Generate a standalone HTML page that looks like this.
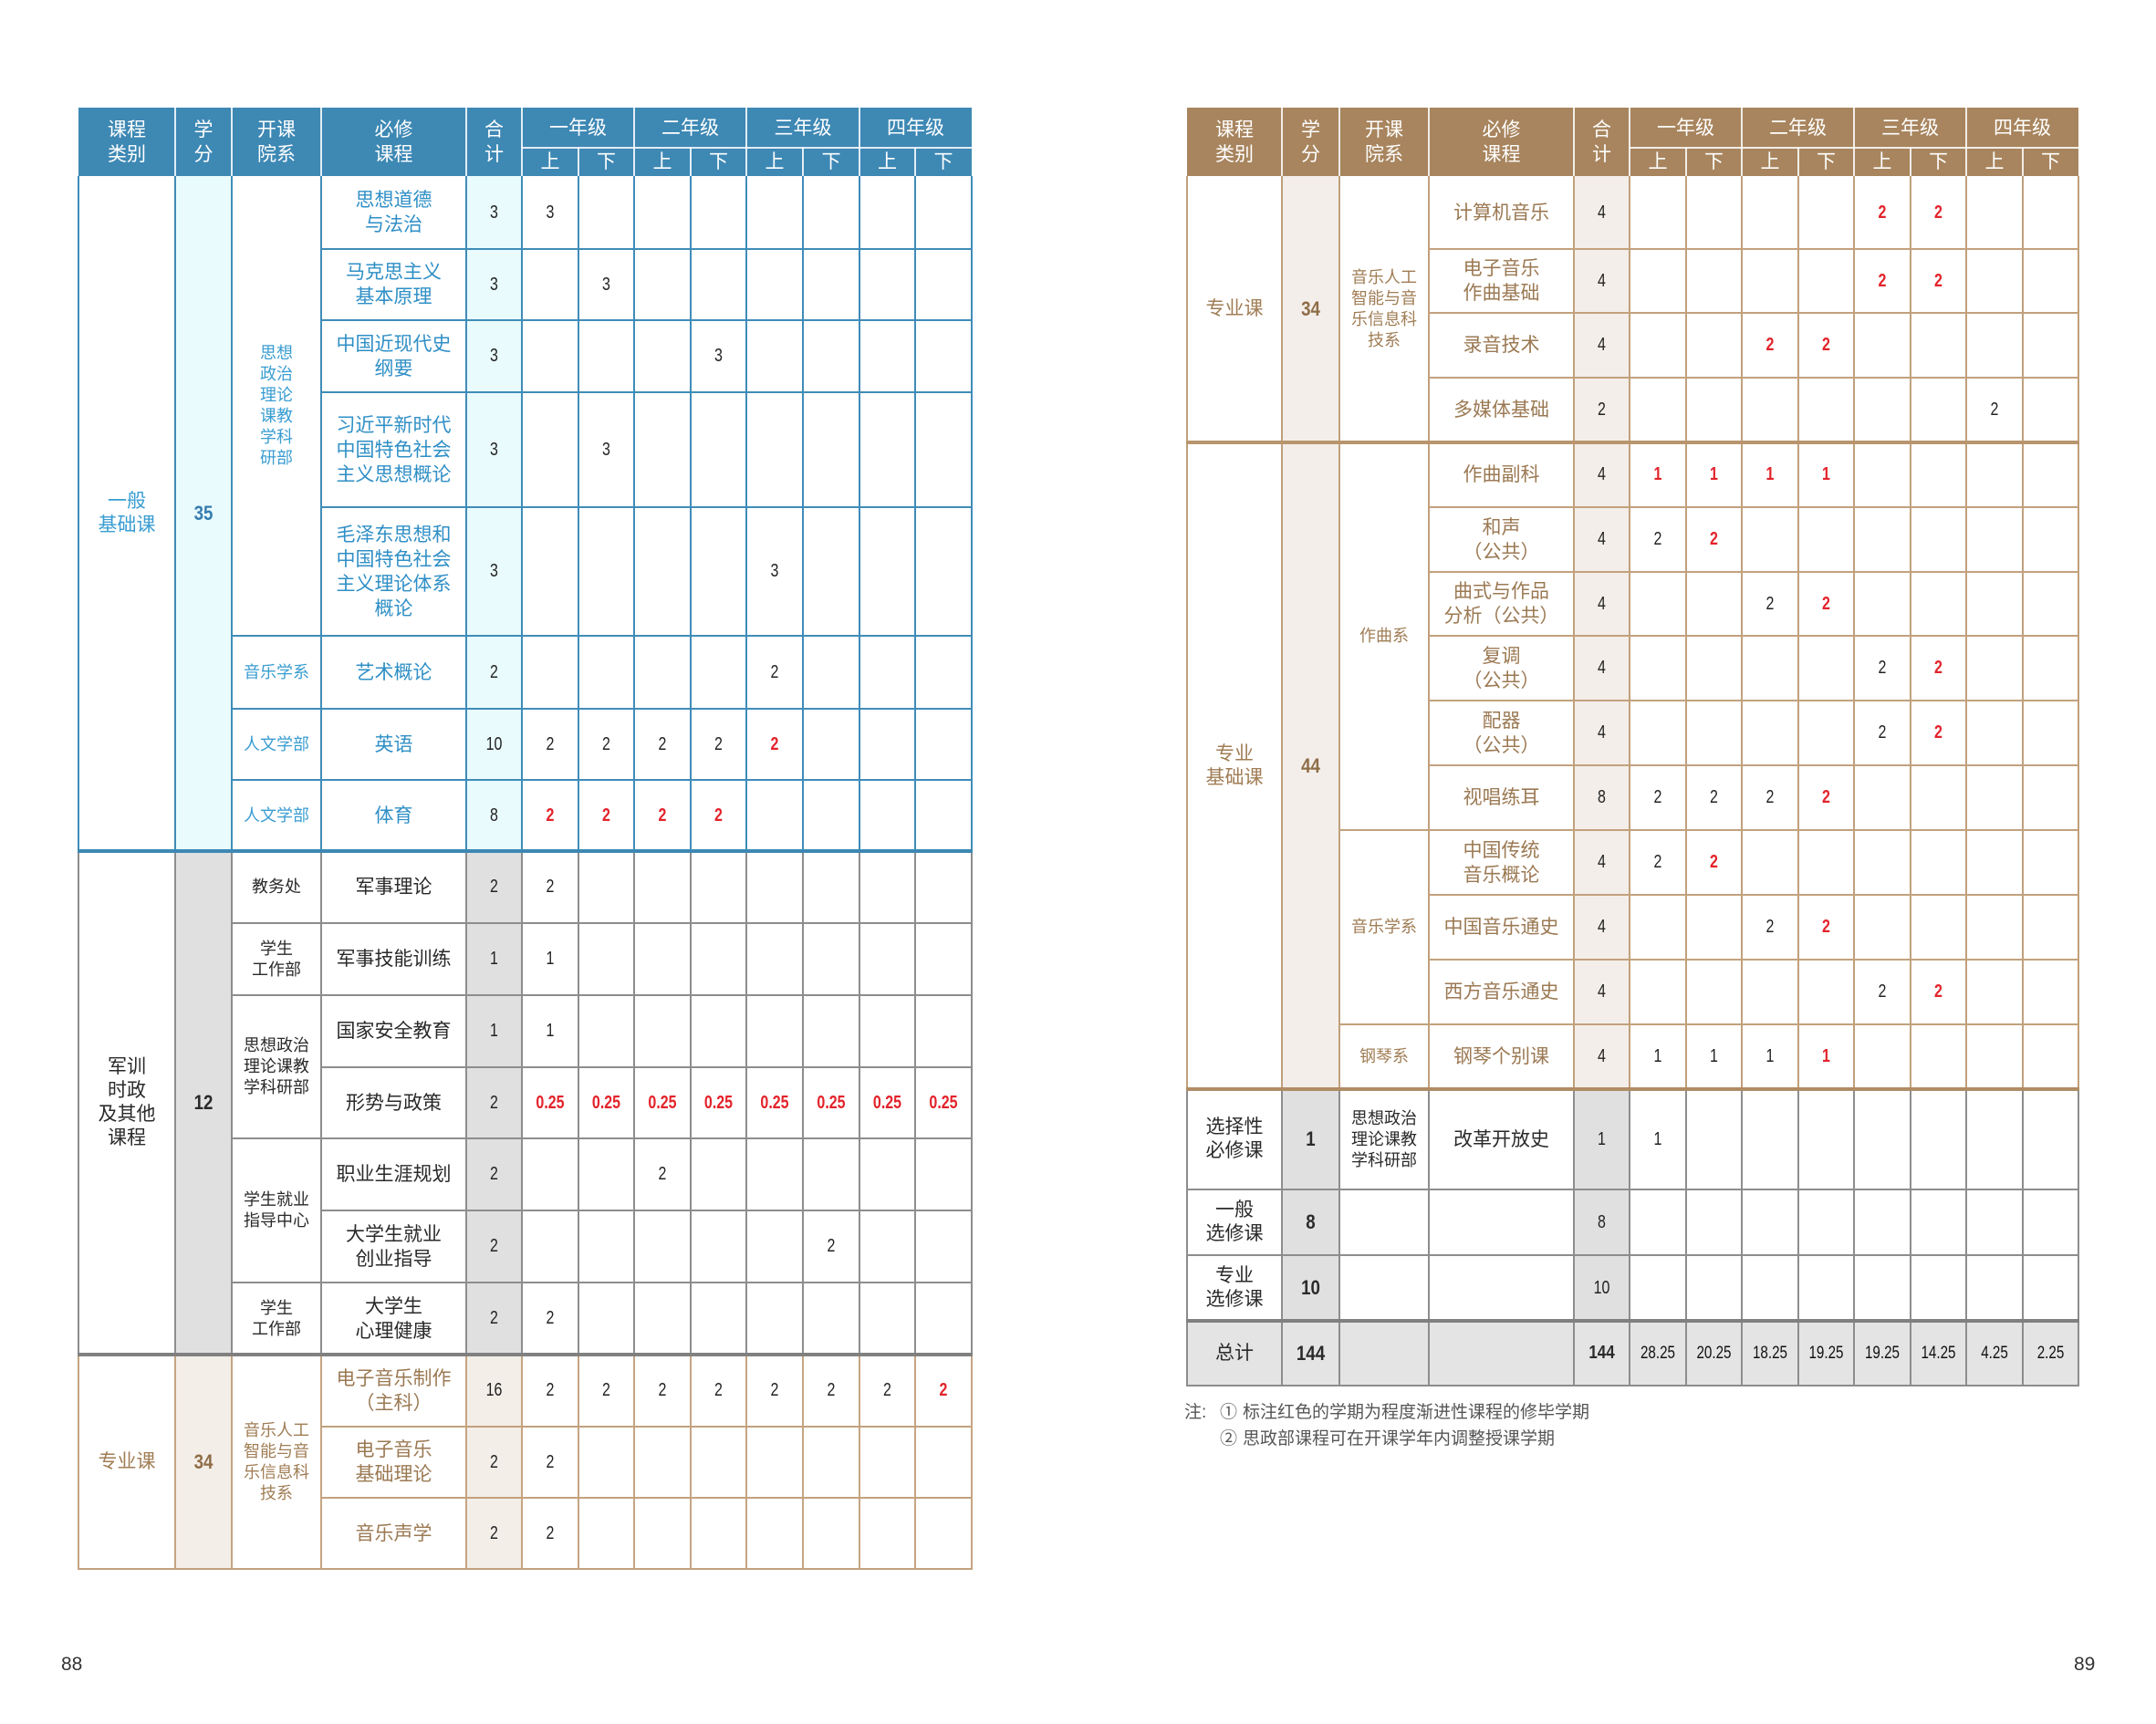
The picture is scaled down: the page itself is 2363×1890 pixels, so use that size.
<!DOCTYPE html>
<html><head><meta charset="utf-8">
<style>
html,body{margin:0;padding:0;background:#fff;}
body{width:2363px;height:1890px;position:relative;overflow:hidden;font-family:"Liberation Sans","Noto Sans CJK SC",sans-serif;}
div{box-sizing:border-box;}
.bg,.v,.h,.w{position:absolute;}
.v{width:2px;}
.h{height:2px;}
.w{background:rgba(255,255,255,0.85);}
.t{position:absolute;display:flex;align-items:center;justify-content:center;text-align:center;white-space:nowrap;}
.hd{color:#fff;font-size:21px;line-height:27px;}
.ct{font-size:21px;line-height:26px;}
.dp{font-size:18px;line-height:23px;}
.co{font-size:21px;line-height:27px;}
.n{font-family:"Liberation Sans Narrow","Liberation Sans",sans-serif;font-size:20px;color:#222;transform:scaleX(0.8);}
.nb{font-family:"Liberation Sans Narrow","Liberation Sans",sans-serif;font-size:22px;font-weight:bold;transform:scaleX(0.85);}
.rd{color:#e3232b;font-weight:bold;}
.bl1{color:#3a9dd2;} .bl2{color:#357db0;} .bl3{color:#2f8fc6;}
.gy{color:#2a2a2a;}
.br1{color:#a07d55;} .br2{color:#8e6d48;} .br3{color:#9b7953;}
/* left columns */
.a0{left:86px;width:106px}.a1{left:192px;width:62px}.a2{left:254px;width:98px}.a3{left:352px;width:159px}.a4{left:511px;width:61px}
.a5{left:572px;width:62px}.a6{left:634px;width:61px}.a7{left:695px;width:62px}.a8{left:757px;width:61px}
.a9{left:818px;width:62px}.a10{left:880px;width:62px}.a11{left:942px;width:61px}.a12{left:1003px;width:62px}
/* right columns */
.b0{left:1301px;width:104px}.b1{left:1405px;width:63px}.b2{left:1468px;width:98px}.b3{left:1566px;width:159px}.b4{left:1725px;width:61px}
.b5{left:1786px;width:62px}.b6{left:1848px;width:61px}.b7{left:1909px;width:62px}.b8{left:1971px;width:61px}
.b9{left:2032px;width:62px}.b10{left:2094px;width:61px}.b11{left:2155px;width:62px}.b12{left:2217px;width:61px}
/* left rows */
.r1{top:193px;height:80px}.r2{top:273px;height:78px}.r3{top:351px;height:79px}.r4{top:430px;height:126px}
.r5{top:556px;height:141px}.r6{top:697px;height:80px}.r7{top:777px;height:78px}.r8{top:855px;height:78px}
.r9{top:933px;height:79px}.r10{top:1012px;height:79px}.r11{top:1091px;height:79px}.r12{top:1170px;height:78px}
.r13{top:1248px;height:79px}.r14{top:1327px;height:79px}.r15{top:1406px;height:79px}.r16{top:1485px;height:79px}
.r17{top:1564px;height:78px}.r18{top:1642px;height:78px}
/* right rows */
.s1{top:193px;height:80px}.s2{top:273px;height:70px}.s3{top:343px;height:71px}.s4{top:414px;height:71px}
.s5{top:485px;height:71px}.s6{top:556px;height:71px}.s7{top:627px;height:70px}.s8{top:697px;height:71px}
.s9{top:768px;height:71px}.s10{top:839px;height:71px}.s11{top:910px;height:71px}.s12{top:981px;height:71px}
.s13{top:1052px;height:71px}.s14{top:1123px;height:71px}.s15{top:1194px;height:110px}.s16{top:1304px;height:72px}
.s17{top:1376px;height:72px}.s18{top:1448px;height:71px}
/* vertical line sections */
.vL1{top:193px;height:740px;background:#3f8cb8}
.vL2{top:933px;height:552px;background:#8d8d8d}
.vL3{top:1485px;height:235px;background:#c6a582}
.vR1{top:193px;height:1001px;background:#c0a07c}
.vR2{top:1194px;height:325px;background:#8d8d8d}
.hb{background:#3f8cb8}.hg{background:#8d8d8d}.ht{background:#c2a17d}
.note{position:absolute;font-size:19px;line-height:19px;color:#555;white-space:nowrap;}
</style></head><body>

<!-- ===== backgrounds ===== -->
<div class="bg" style="left:86px;top:118px;width:979px;height:75px;background:#3e88b4"></div>
<div class="bg" style="left:192px;top:193px;width:62px;height:740px;background:#e9fbfd"></div>
<div class="bg" style="left:511px;top:193px;width:61px;height:740px;background:#e9fbfd"></div>
<div class="bg" style="left:192px;top:933px;width:62px;height:552px;background:#e0e0e0"></div>
<div class="bg" style="left:511px;top:933px;width:61px;height:552px;background:#e0e0e0"></div>
<div class="bg" style="left:192px;top:1485px;width:62px;height:235px;background:#f3eee8"></div>
<div class="bg" style="left:511px;top:1485px;width:61px;height:235px;background:#f3eee8"></div>

<div class="bg" style="left:1301px;top:118px;width:977px;height:75px;background:#a8855e"></div>
<div class="bg" style="left:1405px;top:193px;width:63px;height:1001px;background:#f3eee9"></div>
<div class="bg" style="left:1725px;top:193px;width:61px;height:1001px;background:#f3eee9"></div>
<div class="bg" style="left:1405px;top:1194px;width:63px;height:254px;background:#e0e0e0"></div>
<div class="bg" style="left:1725px;top:1194px;width:61px;height:254px;background:#e0e0e0"></div>
<div class="bg" style="left:1301px;top:1448px;width:977px;height:71px;background:#e4e4e4"></div>

<!-- ===== header white separators (left) ===== -->
<div class="w" style="left:191px;top:118px;width:2px;height:75px"></div>
<div class="w" style="left:253px;top:118px;width:2px;height:75px"></div>
<div class="w" style="left:351px;top:118px;width:2px;height:75px"></div>
<div class="w" style="left:510px;top:118px;width:2px;height:75px"></div>
<div class="w" style="left:571px;top:118px;width:2px;height:75px"></div>
<div class="w" style="left:694px;top:118px;width:2px;height:75px"></div>
<div class="w" style="left:817px;top:118px;width:2px;height:75px"></div>
<div class="w" style="left:941px;top:118px;width:2px;height:75px"></div>
<div class="w" style="left:633px;top:162px;width:2px;height:31px"></div>
<div class="w" style="left:756px;top:162px;width:2px;height:31px"></div>
<div class="w" style="left:879px;top:162px;width:2px;height:31px"></div>
<div class="w" style="left:1002px;top:162px;width:2px;height:31px"></div>
<div class="w" style="left:572px;top:161px;width:493px;height:2px"></div>
<!-- header white separators (right) -->
<div class="w" style="left:1404px;top:118px;width:2px;height:75px"></div>
<div class="w" style="left:1467px;top:118px;width:2px;height:75px"></div>
<div class="w" style="left:1565px;top:118px;width:2px;height:75px"></div>
<div class="w" style="left:1724px;top:118px;width:2px;height:75px"></div>
<div class="w" style="left:1785px;top:118px;width:2px;height:75px"></div>
<div class="w" style="left:1908px;top:118px;width:2px;height:75px"></div>
<div class="w" style="left:2031px;top:118px;width:2px;height:75px"></div>
<div class="w" style="left:2154px;top:118px;width:2px;height:75px"></div>
<div class="w" style="left:1847px;top:162px;width:2px;height:31px"></div>
<div class="w" style="left:1970px;top:162px;width:2px;height:31px"></div>
<div class="w" style="left:2093px;top:162px;width:2px;height:31px"></div>
<div class="w" style="left:2216px;top:162px;width:2px;height:31px"></div>
<div class="w" style="left:1786px;top:161px;width:492px;height:2px"></div>

<!-- ===== left vertical lines ===== -->
<div class="v vL1" style="left:85px"></div><div class="v vL1" style="left:191px"></div><div class="v vL1" style="left:253px"></div><div class="v vL1" style="left:351px"></div><div class="v vL1" style="left:510px"></div><div class="v vL1" style="left:571px"></div><div class="v vL1" style="left:633px"></div><div class="v vL1" style="left:694px"></div><div class="v vL1" style="left:756px"></div><div class="v vL1" style="left:817px"></div><div class="v vL1" style="left:879px"></div><div class="v vL1" style="left:941px"></div><div class="v vL1" style="left:1002px"></div><div class="v vL1" style="left:1064px"></div>
<div class="v vL2" style="left:85px"></div><div class="v vL2" style="left:191px"></div><div class="v vL2" style="left:253px"></div><div class="v vL2" style="left:351px"></div><div class="v vL2" style="left:510px"></div><div class="v vL2" style="left:571px"></div><div class="v vL2" style="left:633px"></div><div class="v vL2" style="left:694px"></div><div class="v vL2" style="left:756px"></div><div class="v vL2" style="left:817px"></div><div class="v vL2" style="left:879px"></div><div class="v vL2" style="left:941px"></div><div class="v vL2" style="left:1002px"></div><div class="v vL2" style="left:1064px"></div>
<div class="v vL3" style="left:85px"></div><div class="v vL3" style="left:191px"></div><div class="v vL3" style="left:253px"></div><div class="v vL3" style="left:351px"></div><div class="v vL3" style="left:510px"></div><div class="v vL3" style="left:571px"></div><div class="v vL3" style="left:633px"></div><div class="v vL3" style="left:694px"></div><div class="v vL3" style="left:756px"></div><div class="v vL3" style="left:817px"></div><div class="v vL3" style="left:879px"></div><div class="v vL3" style="left:941px"></div><div class="v vL3" style="left:1002px"></div><div class="v vL3" style="left:1064px"></div>

<!-- ===== right vertical lines ===== -->
<div class="v vR1" style="left:1300px"></div><div class="v vR1" style="left:1404px"></div><div class="v vR1" style="left:1467px"></div><div class="v vR1" style="left:1565px"></div><div class="v vR1" style="left:1724px"></div><div class="v vR1" style="left:1785px"></div><div class="v vR1" style="left:1847px"></div><div class="v vR1" style="left:1908px"></div><div class="v vR1" style="left:1970px"></div><div class="v vR1" style="left:2031px"></div><div class="v vR1" style="left:2093px"></div><div class="v vR1" style="left:2154px"></div><div class="v vR1" style="left:2216px"></div><div class="v vR1" style="left:2277px"></div>
<div class="v vR2" style="left:1300px"></div><div class="v vR2" style="left:1404px"></div><div class="v vR2" style="left:1467px"></div><div class="v vR2" style="left:1565px"></div><div class="v vR2" style="left:1724px"></div><div class="v vR2" style="left:1785px"></div><div class="v vR2" style="left:1847px"></div><div class="v vR2" style="left:1908px"></div><div class="v vR2" style="left:1970px"></div><div class="v vR2" style="left:2031px"></div><div class="v vR2" style="left:2093px"></div><div class="v vR2" style="left:2154px"></div><div class="v vR2" style="left:2216px"></div><div class="v vR2" style="left:2277px"></div>

<!-- ===== left horizontal lines ===== -->
<div class="h hb" style="left:352px;width:713px;top:272px"></div>
<div class="h hb" style="left:352px;width:713px;top:350px"></div>
<div class="h hb" style="left:352px;width:713px;top:429px"></div>
<div class="h hb" style="left:352px;width:713px;top:555px"></div>
<div class="h hb" style="left:254px;width:811px;top:696px"></div>
<div class="h hb" style="left:254px;width:811px;top:776px"></div>
<div class="h hb" style="left:254px;width:811px;top:854px"></div>
<div class="h" style="left:85px;width:981px;top:931px;height:4px;background:#3d88b4"></div>
<div class="h hg" style="left:254px;width:811px;top:1011px"></div>
<div class="h hg" style="left:254px;width:811px;top:1090px"></div>
<div class="h hg" style="left:352px;width:713px;top:1169px"></div>
<div class="h hg" style="left:254px;width:811px;top:1247px"></div>
<div class="h hg" style="left:352px;width:713px;top:1326px"></div>
<div class="h hg" style="left:254px;width:811px;top:1405px"></div>
<div class="h" style="left:85px;width:981px;top:1483px;height:4px;background:#808080"></div>
<div class="h ht" style="left:352px;width:713px;top:1563px"></div>
<div class="h ht" style="left:352px;width:713px;top:1641px"></div>
<div class="h ht" style="left:85px;width:981px;top:1719px"></div>

<!-- ===== right horizontal lines ===== -->
<div class="h ht" style="left:1566px;width:712px;top:272px"></div>
<div class="h ht" style="left:1566px;width:712px;top:342px"></div>
<div class="h ht" style="left:1566px;width:712px;top:413px"></div>
<div class="h" style="left:1300px;width:979px;top:483px;height:4px;background:#b8956d"></div>
<div class="h ht" style="left:1566px;width:712px;top:555px"></div>
<div class="h ht" style="left:1566px;width:712px;top:626px"></div>
<div class="h ht" style="left:1566px;width:712px;top:696px"></div>
<div class="h ht" style="left:1566px;width:712px;top:767px"></div>
<div class="h ht" style="left:1566px;width:712px;top:838px"></div>
<div class="h ht" style="left:1468px;width:810px;top:909px"></div>
<div class="h ht" style="left:1566px;width:712px;top:980px"></div>
<div class="h ht" style="left:1566px;width:712px;top:1051px"></div>
<div class="h ht" style="left:1468px;width:810px;top:1122px"></div>
<div class="h" style="left:1300px;width:979px;top:1192px;height:4px;background:#b08c63"></div>
<div class="h hg" style="left:1300px;width:979px;top:1303px"></div>
<div class="h hg" style="left:1300px;width:979px;top:1375px"></div>
<div class="h" style="left:1300px;width:979px;top:1446px;height:4px;background:#808080"></div>
<div class="h hg" style="left:1300px;width:979px;top:1518px"></div>

<!-- ===== left header text ===== -->
<div class="t hd a0" style="top:118px;height:75px">课程<br>类别</div>
<div class="t hd a1" style="top:118px;height:75px">学<br>分</div>
<div class="t hd a2" style="top:118px;height:75px">开课<br>院系</div>
<div class="t hd a3" style="top:118px;height:75px">必修<br>课程</div>
<div class="t hd a4" style="top:118px;height:75px">合<br>计</div>
<div class="t hd" style="left:572px;width:123px;top:118px;height:44px">一年级</div>
<div class="t hd" style="left:695px;width:123px;top:118px;height:44px">二年级</div>
<div class="t hd" style="left:818px;width:124px;top:118px;height:44px">三年级</div>
<div class="t hd" style="left:942px;width:123px;top:118px;height:44px">四年级</div>
<div class="t hd a5" style="top:162px;height:31px">上</div><div class="t hd a6" style="top:162px;height:31px">下</div>
<div class="t hd a7" style="top:162px;height:31px">上</div><div class="t hd a8" style="top:162px;height:31px">下</div>
<div class="t hd a9" style="top:162px;height:31px">上</div><div class="t hd a10" style="top:162px;height:31px">下</div>
<div class="t hd a11" style="top:162px;height:31px">上</div><div class="t hd a12" style="top:162px;height:31px">下</div>

<!-- ===== right header text ===== -->
<div class="t hd b0" style="top:118px;height:75px">课程<br>类别</div>
<div class="t hd b1" style="top:118px;height:75px">学<br>分</div>
<div class="t hd b2" style="top:118px;height:75px">开课<br>院系</div>
<div class="t hd b3" style="top:118px;height:75px">必修<br>课程</div>
<div class="t hd b4" style="top:118px;height:75px">合<br>计</div>
<div class="t hd" style="left:1786px;width:123px;top:118px;height:44px">一年级</div>
<div class="t hd" style="left:1909px;width:123px;top:118px;height:44px">二年级</div>
<div class="t hd" style="left:2032px;width:123px;top:118px;height:44px">三年级</div>
<div class="t hd" style="left:2155px;width:123px;top:118px;height:44px">四年级</div>
<div class="t hd b5" style="top:162px;height:31px">上</div><div class="t hd b6" style="top:162px;height:31px">下</div>
<div class="t hd b7" style="top:162px;height:31px">上</div><div class="t hd b8" style="top:162px;height:31px">下</div>
<div class="t hd b9" style="top:162px;height:31px">上</div><div class="t hd b10" style="top:162px;height:31px">下</div>
<div class="t hd b11" style="top:162px;height:31px">上</div><div class="t hd b12" style="top:162px;height:31px">下</div>

<!-- ===== LEFT section 1 ===== -->
<div class="t ct bl1 a0" style="top:193px;height:740px">一般<br>基础课</div>
<div class="t nb bl2 a1" style="top:193px;height:740px">35</div>
<div class="t dp bl1 a2" style="top:193px;height:504px">思想<br>政治<br>理论<br>课教<br>学科<br>研部</div>
<div class="t dp bl1 a2 r6">音乐学系</div>
<div class="t dp bl1 a2 r7">人文学部</div>
<div class="t dp bl1 a2 r8">人文学部</div>
<div class="t co bl3 a3 r1">思想道德<br>与法治</div>
<div class="t co bl3 a3 r2">马克思主义<br>基本原理</div>
<div class="t co bl3 a3 r3">中国近现代史<br>纲要</div>
<div class="t co bl3 a3 r4">习近平新时代<br>中国特色社会<br>主义思想概论</div>
<div class="t co bl3 a3 r5">毛泽东思想和<br>中国特色社会<br>主义理论体系<br>概论</div>
<div class="t co bl3 a3 r6">艺术概论</div>
<div class="t co bl3 a3 r7">英语</div>
<div class="t co bl3 a3 r8">体育</div>
<div class="t n a4 r1">3</div><div class="t n a5 r1">3</div>
<div class="t n a4 r2">3</div><div class="t n a6 r2">3</div>
<div class="t n a4 r3">3</div><div class="t n a8 r3">3</div>
<div class="t n a4 r4">3</div><div class="t n a6 r4">3</div>
<div class="t n a4 r5">3</div><div class="t n a9 r5">3</div>
<div class="t n a4 r6">2</div><div class="t n a9 r6">2</div>
<div class="t n a4 r7">10</div><div class="t n a5 r7">2</div><div class="t n a6 r7">2</div><div class="t n a7 r7">2</div><div class="t n a8 r7">2</div><div class="t n rd a9 r7">2</div>
<div class="t n a4 r8">8</div><div class="t n rd a5 r8">2</div><div class="t n rd a6 r8">2</div><div class="t n rd a7 r8">2</div><div class="t n rd a8 r8">2</div>

<!-- ===== LEFT section 2 ===== -->
<div class="t ct gy a0" style="top:933px;height:552px">军训<br>时政<br>及其他<br>课程</div>
<div class="t nb gy a1" style="top:933px;height:552px">12</div>
<div class="t dp gy a2 r9">教务处</div>
<div class="t dp gy a2 r10">学生<br>工作部</div>
<div class="t dp gy a2" style="top:1091px;height:157px">思想政治<br>理论课教<br>学科研部</div>
<div class="t dp gy a2" style="top:1248px;height:158px">学生就业<br>指导中心</div>
<div class="t dp gy a2 r15">学生<br>工作部</div>
<div class="t co gy a3 r9">军事理论</div>
<div class="t co gy a3 r10">军事技能训练</div>
<div class="t co gy a3 r11">国家安全教育</div>
<div class="t co gy a3 r12">形势与政策</div>
<div class="t co gy a3 r13">职业生涯规划</div>
<div class="t co gy a3 r14">大学生就业<br>创业指导</div>
<div class="t co gy a3 r15">大学生<br>心理健康</div>
<div class="t n a4 r9">2</div><div class="t n a5 r9">2</div>
<div class="t n a4 r10">1</div><div class="t n a5 r10">1</div>
<div class="t n a4 r11">1</div><div class="t n a5 r11">1</div>
<div class="t n a4 r12">2</div>
<div class="t n rd a5 r12">0.25</div><div class="t n rd a6 r12">0.25</div><div class="t n rd a7 r12">0.25</div><div class="t n rd a8 r12">0.25</div><div class="t n rd a9 r12">0.25</div><div class="t n rd a10 r12">0.25</div><div class="t n rd a11 r12">0.25</div><div class="t n rd a12 r12">0.25</div>
<div class="t n a4 r13">2</div><div class="t n a7 r13">2</div>
<div class="t n a4 r14">2</div><div class="t n a10 r14">2</div>
<div class="t n a4 r15">2</div><div class="t n a5 r15">2</div>

<!-- ===== LEFT section 3 ===== -->
<div class="t ct br1 a0" style="top:1485px;height:235px">专业课</div>
<div class="t nb br2 a1" style="top:1485px;height:235px">34</div>
<div class="t dp br1 a2" style="top:1485px;height:235px">音乐人工<br>智能与音<br>乐信息科<br>技系</div>
<div class="t co br3 a3 r16">电子音乐制作<br>（主科）</div>
<div class="t co br3 a3 r17">电子音乐<br>基础理论</div>
<div class="t co br3 a3 r18">音乐声学</div>
<div class="t n a4 r16">16</div><div class="t n a5 r16">2</div><div class="t n a6 r16">2</div><div class="t n a7 r16">2</div><div class="t n a8 r16">2</div><div class="t n a9 r16">2</div><div class="t n a10 r16">2</div><div class="t n a11 r16">2</div><div class="t n rd a12 r16">2</div>
<div class="t n a4 r17">2</div><div class="t n a5 r17">2</div>
<div class="t n a4 r18">2</div><div class="t n a5 r18">2</div>

<!-- ===== RIGHT section A ===== -->
<div class="t ct br1 b0" style="top:193px;height:292px">专业课</div>
<div class="t nb br2 b1" style="top:193px;height:292px">34</div>
<div class="t dp br1 b2" style="top:193px;height:292px">音乐人工<br>智能与音<br>乐信息科<br>技系</div>
<div class="t co br3 b3 s1">计算机音乐</div>
<div class="t co br3 b3 s2">电子音乐<br>作曲基础</div>
<div class="t co br3 b3 s3">录音技术</div>
<div class="t co br3 b3 s4">多媒体基础</div>
<div class="t n b4 s1">4</div><div class="t n rd b9 s1">2</div><div class="t n rd b10 s1">2</div>
<div class="t n b4 s2">4</div><div class="t n rd b9 s2">2</div><div class="t n rd b10 s2">2</div>
<div class="t n b4 s3">4</div><div class="t n rd b7 s3">2</div><div class="t n rd b8 s3">2</div>
<div class="t n b4 s4">2</div><div class="t n b11 s4">2</div>

<!-- ===== RIGHT section B ===== -->
<div class="t ct br1 b0" style="top:485px;height:709px">专业<br>基础课</div>
<div class="t nb br2 b1" style="top:485px;height:709px">44</div>
<div class="t dp br1 b2" style="top:485px;height:425px">作曲系</div>
<div class="t dp br1 b2" style="top:910px;height:213px">音乐学系</div>
<div class="t dp br1 b2 s14">钢琴系</div>
<div class="t co br3 b3 s5">作曲副科</div>
<div class="t co br3 b3 s6">和声<br>（公共）</div>
<div class="t co br3 b3 s7">曲式与作品<br>分析（公共）</div>
<div class="t co br3 b3 s8">复调<br>（公共）</div>
<div class="t co br3 b3 s9">配器<br>（公共）</div>
<div class="t co br3 b3 s10">视唱练耳</div>
<div class="t co br3 b3 s11">中国传统<br>音乐概论</div>
<div class="t co br3 b3 s12">中国音乐通史</div>
<div class="t co br3 b3 s13">西方音乐通史</div>
<div class="t co br3 b3 s14">钢琴个别课</div>
<div class="t n b4 s5">4</div><div class="t n rd b5 s5">1</div><div class="t n rd b6 s5">1</div><div class="t n rd b7 s5">1</div><div class="t n rd b8 s5">1</div>
<div class="t n b4 s6">4</div><div class="t n b5 s6">2</div><div class="t n rd b6 s6">2</div>
<div class="t n b4 s7">4</div><div class="t n b7 s7">2</div><div class="t n rd b8 s7">2</div>
<div class="t n b4 s8">4</div><div class="t n b9 s8">2</div><div class="t n rd b10 s8">2</div>
<div class="t n b4 s9">4</div><div class="t n b9 s9">2</div><div class="t n rd b10 s9">2</div>
<div class="t n b4 s10">8</div><div class="t n b5 s10">2</div><div class="t n b6 s10">2</div><div class="t n b7 s10">2</div><div class="t n rd b8 s10">2</div>
<div class="t n b4 s11">4</div><div class="t n b5 s11">2</div><div class="t n rd b6 s11">2</div>
<div class="t n b4 s12">4</div><div class="t n b7 s12">2</div><div class="t n rd b8 s12">2</div>
<div class="t n b4 s13">4</div><div class="t n b9 s13">2</div><div class="t n rd b10 s13">2</div>
<div class="t n b4 s14">4</div><div class="t n b5 s14">1</div><div class="t n b6 s14">1</div><div class="t n b7 s14">1</div><div class="t n rd b8 s14">1</div>

<!-- ===== RIGHT section C ===== -->
<div class="t ct gy b0 s15">选择性<br>必修课</div>
<div class="t nb gy b1 s15">1</div>
<div class="t dp gy b2 s15">思想政治<br>理论课教<br>学科研部</div>
<div class="t co gy b3 s15">改革开放史</div>
<div class="t n b4 s15">1</div><div class="t n b5 s15">1</div>
<div class="t ct gy b0 s16">一般<br>选修课</div>
<div class="t nb gy b1 s16">8</div>
<div class="t n b4 s16">8</div>
<div class="t ct gy b0 s17">专业<br>选修课</div>
<div class="t nb gy b1 s17">10</div>
<div class="t n b4 s17">10</div>
<div class="t ct gy b0 s18">总计</div>
<div class="t nb gy b1 s18">144</div>
<div class="t nb gy b4 s18" style="font-size:20px">144</div>
<div class="t n b5 s18" style="font-size:19px;color:#111">28.25</div>
<div class="t n b6 s18" style="font-size:19px;color:#111">20.25</div>
<div class="t n b7 s18" style="font-size:19px;color:#111">18.25</div>
<div class="t n b8 s18" style="font-size:19px;color:#111">19.25</div>
<div class="t n b9 s18" style="font-size:19px;color:#111">19.25</div>
<div class="t n b10 s18" style="font-size:19px;color:#111">14.25</div>
<div class="t n b11 s18" style="font-size:19px;color:#111">4.25</div>
<div class="t n b12 s18" style="font-size:19px;color:#111">2.25</div>

<!-- ===== notes ===== -->
<div class="note" style="left:1298px;top:1539px">注:</div>
<div class="note" style="left:1337px;top:1539px">①</div>
<div class="note" style="left:1362px;top:1539px">标注红色的学期为程度渐进性课程的修毕学期</div>
<div class="note" style="left:1337px;top:1568px">②</div>
<div class="note" style="left:1362px;top:1568px">思政部课程可在开课学年内调整授课学期</div>

<!-- ===== page numbers ===== -->
<div style="position:absolute;left:67px;top:1814px;font-size:21px;line-height:21px;color:#333">88</div>
<div style="position:absolute;left:2273px;top:1814px;font-size:21px;line-height:21px;color:#333">89</div>

</body></html>
